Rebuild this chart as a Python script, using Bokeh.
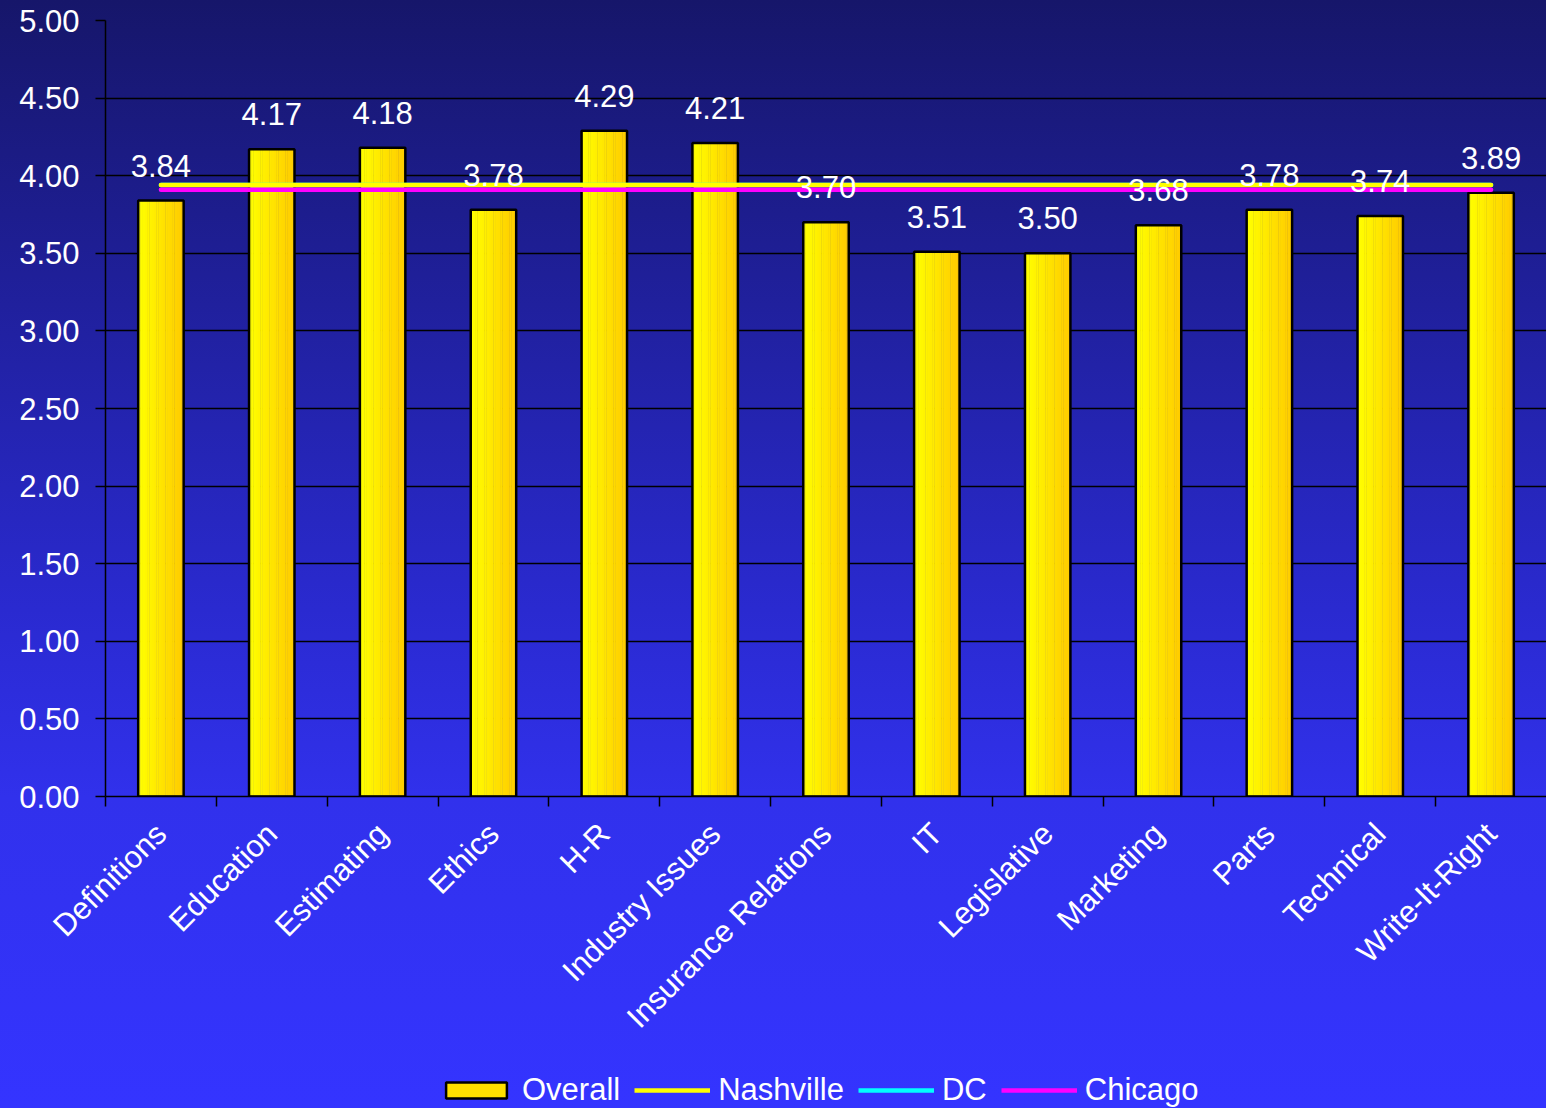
import math
from bokeh.plotting import figure
from bokeh.layouts import column
from bokeh.models import (ColumnDataSource, FactorRange, Range1d, LinearAxis, CategoricalAxis,
                          FixedTicker, NumeralTickFormatter, CustomJSTickFormatter, Legend, LegendItem)
from bokeh.transform import dodge
from bokeh.embed import file_html
from bokeh.resources import INLINE

categories = ["Definitions", "Education", "Estimating", "Ethics", "H-R", "Industry Issues",
              "Insurance Relations", "IT", "Legislative", "Marketing", "Parts", "Technical",
              "Write-It-Right"]
overall = [3.84, 4.17, 4.18, 3.78, 4.29, 4.21, 3.70, 3.51, 3.50, 3.68, 3.78, 3.74, 3.89]
nashville = [3.94, 3.94, 3.94, 3.94, 3.94, 3.94, 3.94, 3.94, 3.94, 3.94, 3.94, 3.94, 3.94]
dc = [3.94, 3.94, 3.94, 3.94, 3.94, 3.94, 3.94, 3.94, 3.94, 3.94, 3.94, 3.94, 3.94]
chicago = [3.91, 3.91, 3.91, 3.91, 3.91, 3.91, 3.91, 3.91, 3.91, 3.91, 3.91, 3.91, 3.91]
y_ticks = [0.0, 0.5, 1.0, 1.5, 2.0, 2.5, 3.0, 3.5, 4.0, 4.5, 5.0]

FONT = "Liberation Sans"
FS = "31px"
src = ColumnDataSource(dict(cat=categories, overall=overall, nashville=nashville, dc=dc,
                            chicago=chicago, label=["%.2f" % v for v in overall]))
xr = FactorRange(*categories, range_padding=0)

p = figure(width=1546, height=1058, x_range=xr,
           y_range=Range1d(0, 5), output_backend="svg", toolbar_location=None,
           x_axis_location=None, min_border_left=105, min_border_right=0, min_border_top=20,
           min_border_bottom=262)
p.background_fill_color = None
p.border_fill_color = None
p.outline_line_color = None
p.xgrid.visible = False

# y axis
yax = p.yaxis[0]
yax.ticker = FixedTicker(ticks=y_ticks)
yax.formatter = NumeralTickFormatter(format="0.00")
yax.major_label_text_font = FONT
yax.major_label_text_font_size = FS
yax.major_label_text_color = "white"
yax.axis_line_color = "black"
yax.axis_line_width = 1.5
yax.major_tick_line_color = "black"
yax.major_tick_line_width = 1.5
yax.major_tick_out = 10
yax.major_tick_in = 0
yax.minor_tick_line_color = None
yax.major_label_standoff = 16
p.ygrid.grid_line_color = "black"
p.ygrid.grid_line_width = 1.5
p.ygrid.ticker = FixedTicker(ticks=y_ticks)

# x tick axis at category boundaries (synthetic coordinates of the factor range)
tax = LinearAxis(ticker=FixedTicker(ticks=list(range(0, 13))),
                 formatter=CustomJSTickFormatter(code="return ''"))
tax.axis_line_color = "black"
tax.axis_line_width = 1.5
tax.major_tick_line_color = "black"
tax.major_tick_line_width = 1.5
tax.major_tick_out = 10
tax.major_tick_in = 0
tax.minor_tick_line_color = None
tax.major_label_standoff = 0
tax.major_label_text_font_size = "1px"
p.add_layout(tax, "below")

cax = CategoricalAxis()
cax.axis_line_color = None
cax.major_tick_line_color = None
cax.minor_tick_line_color = None
cax.major_label_orientation = math.pi / 4
cax.major_label_text_font = FONT
cax.major_label_text_font_size = FS
cax.major_label_text_color = "white"
cax.major_label_standoff = 16
p.add_layout(cax, "below")

# bars with horizontal gradient
W = 0.41
n = 20
for k in range(n):
    t = k / (n - 1)
    g = int(round(255 - 51 * t))
    col = "#%02x%02x%02x" % (255, g, 0)
    off = -W / 2 + (k + 0.5) * W / n
    p.vbar(x=dodge("cat", off, range=xr), top="overall", width=W / n * 1.2, bottom=0,
           source=src, fill_color=col, line_color=None)
p.vbar(x="cat", top="overall", width=W, bottom=0, source=src, fill_color=None,
       line_color="black", line_width=2.5)

line_styles = [("dc", "#00ffff"), ("nashville", "#ffff00"), ("chicago", "#ff00ff")]
for col_name, c in line_styles:
    p.line(x="cat", y=col_name, source=src, line_color=c, line_width=4.5, line_cap="round")

p.text(x="cat", y="overall", text="label", source=src, text_align="center",
       text_baseline="bottom", y_offset=-24, text_color="white", text_font_size=FS,
       text_font={"value": FONT})

# legend strip (its renderers share the data but are hidden; only their legend glyphs show)
pl = figure(width=1546, height=50, x_range=xr, y_range=Range1d(100, 101),
            output_backend="svg", toolbar_location=None, x_axis_location=None,
            y_axis_location=None, min_border_left=0, min_border_right=0,
            min_border_top=0, min_border_bottom=0)
pl.background_fill_color = None
pl.border_fill_color = None
pl.outline_line_color = None
pl.grid.visible = False

r_over = pl.vbar(x="cat", top="overall", width=W, bottom=0, source=src, fill_color="#ffe000",
                 line_color="black", line_width=2.5)
r_na = pl.line(x="cat", y="nashville", source=src, line_color="#ffff00", line_width=4.5)
r_dc = pl.line(x="cat", y="dc", source=src, line_color="#00ffff", line_width=4.5)
r_ch = pl.line(x="cat", y="chicago", source=src, line_color="#ff00ff", line_width=4.5)
for r in (r_over, r_na, r_dc, r_ch):
    r.visible = False

legend = Legend(items=[LegendItem(label="Overall", renderers=[r_over]),
                       LegendItem(label="Nashville", renderers=[r_na]),
                       LegendItem(label="DC", renderers=[r_dc]),
                       LegendItem(label="Chicago", renderers=[r_ch])],
                orientation="horizontal", location=(333, 0))
legend.background_fill_alpha = 0
legend.border_line_color = None
legend.inactive_fill_alpha = 0
legend.label_text_color = "white"
legend.label_text_font = FONT
legend.label_text_font_size = FS
legend.glyph_width = 76
legend.glyph_height = 20
legend.label_standoff = 8
legend.spacing = 14
legend.padding = 0
legend.margin = 0
pl.add_layout(legend, "center")

layout = column(p, pl, spacing=0)
layout.styles = {"background": "linear-gradient(to bottom, #16166a 0%, #2a2ad0 55%, #3131ec 72%, #3434ff 100%)"}

open("out.html", "w").write(file_html(layout, INLINE))
